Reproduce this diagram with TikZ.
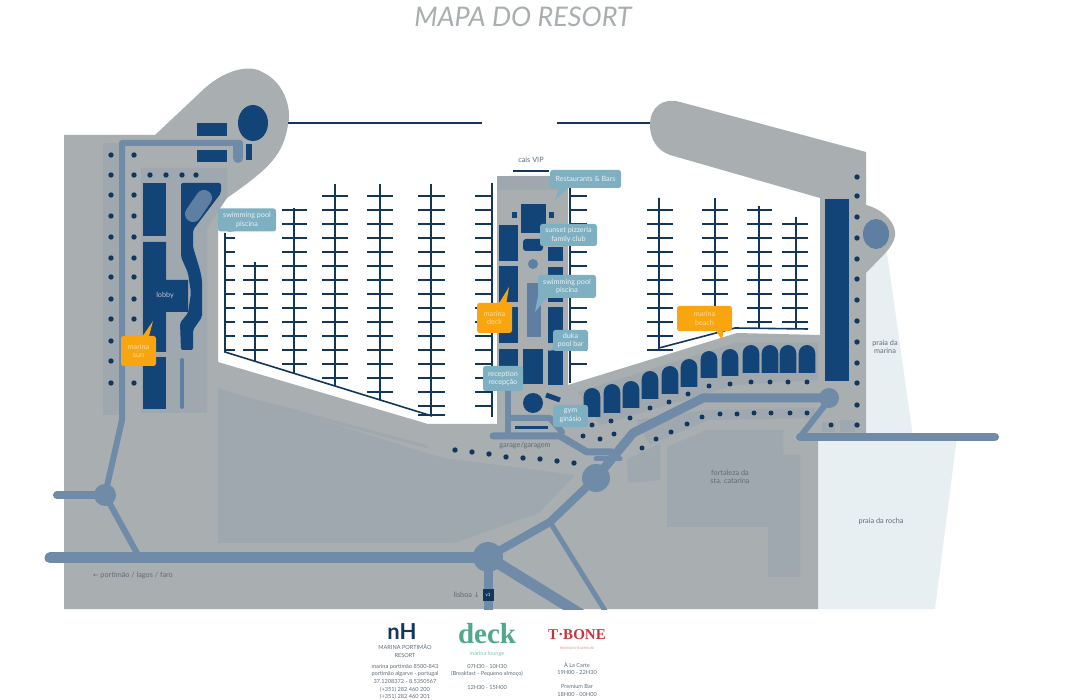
\documentclass[tikz,border=0pt]{standalone}
\usepackage{fontspec}
\setmainfont{Lato}
\definecolor{land}{HTML}{A9AEB0}
\definecolor{inner}{HTML}{9FA8AE}
\definecolor{roadc}{HTML}{6F8BA8}
\definecolor{bldgc}{HTML}{134478}
\definecolor{dockc}{HTML}{12365C}
\definecolor{poolc}{HTML}{5F7FA2}
\definecolor{beachc}{HTML}{E8EFF3}
\definecolor{tagc}{HTML}{7FB0C2}
\definecolor{orangec}{HTML}{F9A510}
\definecolor{labelc}{HTML}{5F6C76}
\definecolor{deckc}{HTML}{4FA98C}
\definecolor{boner}{HTML}{C8343C}
\tikzset{
  road/.style={draw=roadc,line width=#1,line cap=round,line join=round},
  dock/.style={draw=dockc,line width=1.6pt},
  finger/.style={draw=dockc,line width=1.2pt},
  bldg/.style={fill=bldgc},
  dotp/.style={fill=dockc},
  tagbox/.style={fill=tagc,rounded corners=2.5pt,text=white!82!tagc,align=center,inner sep=0pt,font=\fontsize{7.2}{8.4}\selectfont},
  orangebox/.style={tagbox,fill=orangec,text=white!60!orangec},
  maplabel/.style={text=labelc,align=center,inner sep=0pt,font=\fontsize{7.3}{8}\selectfont},
  footer/.style={text=labelc,align=center,inner sep=0pt,font=\fontsize{5.6}{7.6}\selectfont},
}
\begin{document}
\begin{tikzpicture}[x=1pt,y=-1pt]
  \useasboundingbox (0,0) rectangle (1080,700);
  \clip (0,0) rectangle (1080,700);
  \fill[white] (0,0) rectangle (1080,700);
  \node[text=land,inner sep=0pt,font=\fontsize{27}{30}\selectfont\itshape] (title) at (523,17) {MAPA DO RESORT};

  \fill[beachc] (866,253) -- (887,253) -- (913,437) -- (866,437) -- cycle;
  \fill[beachc] (818,437) -- (957,437) -- (935,609) -- (818,609) -- cycle;

  \fill[land] (64,135) -- (155,135) -- (205,88) .. controls (225,70) and (250,64) .. (262,72)
    .. controls (285,82) and (292,110) .. (288,125) .. controls (283,155) and (270,168) .. (227,198)
    -- (218,205) -- (218,362) -- (428,424) -- (497,424) -- (497,188) .. controls (497,180) and (503,176) .. (510,176)
    -- (568,176) -- (568,385) -- (737,333) -- (820,335) -- (820,198) -- (670,155)
    .. controls (656,150) and (650,138) .. (650,125) .. controls (650,108) and (662,97) .. (680,102) -- (866,152) -- (866,205)
    .. controls (885,210) and (897,225) .. (895,236) .. controls (893,248) and (880,258) .. (866,273)
    -- (866,433) -- (818,433) -- (818,609) -- (64,609) -- cycle;

  \fill[inner] (103,143) rectangle (120,415);
  \fill[inner] (141,168) -- (227,168) -- (227,198) -- (207,228) -- (207,413) -- (141,413) -- cycle;
  \fill[inner] (218,388) -- (443,458) -- (575,475) -- (539,513) -- (454,543) -- (218,543) -- cycle;
  \draw[inner,line width=3pt] (253,400) -- (428,447);
  \fill[inner] (667,447) -- (707,430) -- (783,430) -- (783,455) -- (800,455) -- (800,577) -- (768,577) -- (768,527) -- (667,527) -- cycle;
  \fill[inner] (627,460) -- (660,443) -- (660,480) -- (628,483) -- cycle;
  \fill[inner] (578,392) -- (735,343) -- (818,343) -- (818,380) -- (735,385) -- (600,425) -- cycle;
  \fill[inner] (636,420) -- (705,410) -- (815,408) -- (815,418) -- (708,420) -- (650,445) -- cycle;
  \fill[inner] (840,420) rectangle (855,432);
  \fill[inner] (497,176) rectangle (568,190);
  \fill[inner] (822,422) rectangle (835,432);

  \draw[road=6pt] (105,495) -- (122,420) -- (122,143) -- (240,143);
  \draw[road=10pt] (238,145) -- (238,158);
  \draw[road=8pt] (57,495) -- (105,495);
  \draw[road=6pt] (105,495) -- (138,555);
  \draw[road=11pt] (50,558) -- (488,558);
  \begin{scope}
    \clip (0,0) rectangle (1080,609);
    \draw[road=9pt] (488,557) -- (488,618);
    \draw[road=11pt] (488,557) -- (590,620);
    \draw[road=5pt] (550,522) -- (612,622);
  \end{scope}
  \draw[road=8pt] (488,557) -- (550,522) -- (596,478);
  \draw[road=9pt] (596,478) -- (633,433) -- (703,398) -- (830,398);
  \draw[road=6pt] (508,390) -- (508,436);
  \draw[road=6pt] (510,418) -- (550,418) -- (562,432);
  \draw[road=7pt] (493,436) -- (560,436) -- (587,452) -- (612,452);
  \draw[road=5pt] (596,459) -- (620,459);
  \draw[road=6pt] (825,405) -- (800,437);
  \draw[road=8pt] (800,437) -- (995,437);
  \fill[roadc] (105,495) circle (11);
  \fill[roadc] (488,557) circle (15);
  \fill[roadc] (596,478) circle (14);
  \fill[roadc] (829,398) circle (10);
  \fill[poolc] (876,234) circle [x radius=13,y radius=15];

  \draw[dock] (288,123) -- (482,123);
  \draw[dock] (557,123) -- (650,123);
  \draw[dock] (513,171) -- (549,171);
  \draw[dock] (225,233) -- (225,352) -- (432,416);
  \draw[dock] (255,262) -- (255,361);
  \draw[dock] (294,208) -- (294,373);
  \draw[dock] (335,184) -- (335,386);
  \draw[dock] (380,184) -- (380,400);
  \draw[dock] (431,184) -- (431,416);
  \draw[dock] (492,183) -- (492,417);
  \draw[dock] (570,188) -- (570,383);
  \draw[dock] (659,198) -- (659,348) -- (735,328) -- (808,329);
  \draw[dock] (715,198) -- (715,328);
  \draw[dock] (759,206) -- (759,328);
  \draw[dock] (796,217) -- (796,328);
  \foreach \fy in {238,252,...,350} \draw[finger] (225,\fy) -- (235,\fy);
  \foreach \fy in {266,280,...,350} \draw[finger] (243,\fy) -- (268,\fy);
  \foreach \fy in {210,224,...,364} \draw[finger] (282,\fy) -- (307,\fy);
  \foreach \fy in {196,210,...,378} \draw[finger] (322,\fy) -- (348,\fy);
  \foreach \fy in {196,210,...,392} \draw[finger] (367,\fy) -- (393,\fy);
  \foreach \fy in {196,210,...,406} \draw[finger] (418,\fy) -- (445,\fy);
  \draw[finger] (418,415) -- (445,415);
  \foreach \fy in {196,210,...,406} \draw[finger] (475,\fy) -- (492,\fy);
  \foreach \fy in {196,210,...,364} \draw[finger] (570,\fy) -- (587,\fy);
  \foreach \fy in {210,224,...,350} \draw[finger] (647,\fy) -- (673,\fy);
  \foreach \fy in {210,224,...,322} \draw[finger] (702,\fy) -- (728,\fy);
  \foreach \fy in {210,224,...,322} \draw[finger] (747,\fy) -- (772,\fy);
  \foreach \fy in {224,238,...,322} \draw[finger] (782,\fy) -- (808,\fy);

  \fill[bldg] (197,123) rectangle (227,136);
  \fill[bldg] (197,150) rectangle (227,162);
  \fill[bldg] (253,123) circle [x radius=15,y radius=18];
  \fill[bldg] (246,144) rectangle (252,160);
  \fill[bldg] (143,183) rectangle (166,236);
  \fill[bldg] (143,242) -- (166,242) -- (166,280) -- (188,280) -- (188,312) -- (166,312) -- (166,352) -- (143,352) -- cycle;
  \fill[bldg] (143,357) rectangle (166,409);
  \fill[bldg,rounded corners=2pt] (181,183) -- (221,183) -- (221,193) -- (193,230) -- (193,247) -- (200,270) -- (202,280) -- (202,317) -- (193,330) -- (193,350) -- (181,350) -- (180,323) -- (188,313) -- (191,293) -- (188,273) -- (181,257) -- cycle;
  \draw[poolc,line width=16pt,line cap=round] (204,198) -- (193,214);
  \draw[poolc,line width=4pt,line cap=round] (182,360) -- (182,407);

  \fill[bldg] (521,204) rectangle (546,233);
  \fill[bldg] (512,212) rectangle (517,218);
  \fill[bldg] (549,212) rectangle (554,218);
  \fill[bldg,rounded corners=3pt] (523,239) rectangle (543,251);
  \foreach \by in {225,266,307,349} \fill[bldg] (499,\by) rectangle (518,\by+36);
  \fill[bldg] (548,247) rectangle (563,261);
  \fill[bldg] (548,267) rectangle (563,302);
  \fill[bldg] (548,307) rectangle (563,343);
  \fill[bldg] (548,350) rectangle (563,385);
  \fill[bldg] (523,349) rectangle (543,384);
  \fill[poolc] (533,264) circle (5);
  \fill[poolc] (527,283) rectangle (541,337);
  \fill[bldg] (533,403) circle (10);
  \draw[bldgc,line width=5pt] (546,395) -- (560,400);
  \draw[bldgc,line width=3pt] (515,428) -- (548,428);

  \foreach \ax/\ay/\az in {592/388/417,612/384/413,631/381/408,650/371/399,670/366/394,689/359/387,709/351/378,730/349/376,751/345/373,770/345/373,788/345/373,807/345/373}
    \fill[bldg] (\ax-8.3,\az) -- (\ax-8.3,\ay+8.3) arc (180:360:8.3) -- (\ax+8.3,\az) -- cycle;
  \fill[bldg] (825,199) rectangle (849,381);

  \foreach \dy in {155,175,195,216,237,258,277,299,319,341,361,383} \fill[dotp] (111,\dy) circle (2.7);
  \foreach \dy in {155,175,195,216,237,258,277,299,319,383} \fill[dotp] (134,\dy) circle (2.7);
  \foreach \dx in {150,166,182,196} \fill[dotp] (\dx,175) circle (2.7);
  \foreach \dy in {177,196,217,238,259,279,300,321,342,363,383,405,425} \fill[dotp] (857,\dy) circle (2.7);
  \foreach \dx/\dy in {709/386,730/384,751/382,770/382,788/382,807/382,688/394,669/402,650/408,630/418,611/421,592/425,583/436,600/439,614/434} \fill[dotp] (\dx,\dy) circle (2.5);
  \foreach \dx/\dy in {807/413,790/413,771/413,754/413,737/414,720/414,702/417,687/424,671/432,656/439,642/448,831/425} \fill[dotp] (\dx,\dy) circle (2.5);
  \foreach \dx/\dy in {455/450,472/452,489/454,506/457,523/458,540/459,557/461,574/463} \fill[dotp] (\dx,\dy) circle (2.7);

  \fill[tagc] (243,230) -- (229,232) -- (222,228) -- cycle;
  \node[tagbox,minimum width=58pt,minimum height=23pt] (poolwest) at (247,220) {swimming pool\\piscina};
  \fill[orangec] (140,340) -- (153,321) -- (148,340) -- cycle;
  \node[orangebox,minimum width=35pt,minimum height=30pt] (sun) at (138.5,351) {marina\\sun};
  \fill[tagc] (560,186) -- (555,200) -- (570,186) -- cycle;
  \node[tagbox,minimum width=71pt,minimum height=18pt] (bars) at (585.5,179) {Restaurants \& Bars};
  \node[tagbox,minimum width=57pt,minimum height=22pt] (sunset) at (568.5,235) {sunset pizzeria\\family club};
  \fill[tagc] (538,296) -- (535,312) -- (548,296) -- cycle;
  \node[tagbox,minimum width=58pt,minimum height=23pt] (poolpier) at (567,286.5) {swimming pool\\piscina};
  \fill[orangec] (498,305) -- (509,287) -- (506,305) -- cycle;
  \node[orangebox,minimum width=35pt,minimum height=30pt] (deckbox) at (494.5,318) {marina\\deck};
  \fill[tagc] (556,345) -- (548,351) -- (562,349) -- cycle;
  \node[tagbox,minimum width=35pt,minimum height=21pt] (duka) at (570.5,340.5) {duka\\pool bar};
  \node[tagbox,minimum width=40pt,minimum height=25pt] (reception) at (503,378.5) {reception\\recepção};
  \node[tagbox,minimum width=35pt,minimum height=22pt] (gym) at (570.5,416) {gym\\ginásio};
  \fill[orangec] (714,328) -- (722,340) -- (724,328) -- cycle;
  \node[orangebox,minimum width=55pt,minimum height=25pt] (beach) at (704.5,318.5) {marina\\beach};

  \node[text=white!70!bldgc,inner sep=0pt,font=\fontsize{7.2}{8}\selectfont] (lobby) at (165,295) {lobby};
  \node[maplabel] (cais) at (531,160) {cais VIP};
  \node[maplabel] (garage) at (525,445) {garage/garagem};
  \node[maplabel] (fort) at (730,477) {fortaleza da\\sta. catarina};
  \node[maplabel] (rocha) at (881,521) {praia da rocha};
  \node[maplabel] (marinab) at (885,347) {praia da\\marina};
  \node[maplabel,anchor=west] (faro) at (93,575) {{\fontspec{DejaVu Sans}\fontsize{6.4}{7.6}\selectfont ←}\ portimão / lagos / faro};
  \node[maplabel,anchor=east] (lisboa) at (480,595) {lisboa {\fontspec{DejaVu Sans}\fontsize{7}{8}\selectfont ↓}};
  \node[fill=dockc,text=white,inner sep=0pt,minimum width=11pt,minimum height=11pt,font=\fontsize{4.5}{5}\selectfont] (vone) at (488,595) {v1};

  \node[text=dockc,inner sep=0pt,font=\fontsize{22}{24}\selectfont\bfseries] (nh) at (402,632) {nH};
  \node[footer] (nhname) at (405,651) {MARINA PORTIMÃO\\RESORT};
  \node[footer,anchor=north] (nhaddr) at (405,664) {marina portimão 8500-843\\portimão algarve - portugal\\37.1208372 - 8.5350567\\(+351) 282 460 200\\(+351) 282 460 201};
  \node[text=deckc,inner sep=0pt,font=\fontspec{Liberation Serif}\fontsize{29}{30}\selectfont\bfseries] (deck) at (487,634) {deck};
  \node[text=deckc!70,inner sep=0pt,font=\fontsize{5.6}{6}\selectfont] (lounge) at (487,653.5) {marina lounge};
  \node[footer,anchor=north] (deckhours) at (487,664) {07H30 - 10H30\\(Breakfast - Pequeno almoço)\\[6pt]12H30 - 15H00};
  \node[text=boner,inner sep=0pt,font=\fontspec{Liberation Serif}\fontsize{15}{16}\selectfont\bfseries] (bone) at (577,635) {T·BONE};
  \node[text=boner!60,inner sep=0pt,font=\fontsize{3}{4}\selectfont] (bonesub) at (577,648) {PREMIUM STEAKHOUSE};
  \node[footer,anchor=north] (bonehours) at (577,662) {À La Carte\\19H00 - 22H30\\[6pt]Premium Bar\\18H00 - 00H00};
\end{tikzpicture}
\end{document}
